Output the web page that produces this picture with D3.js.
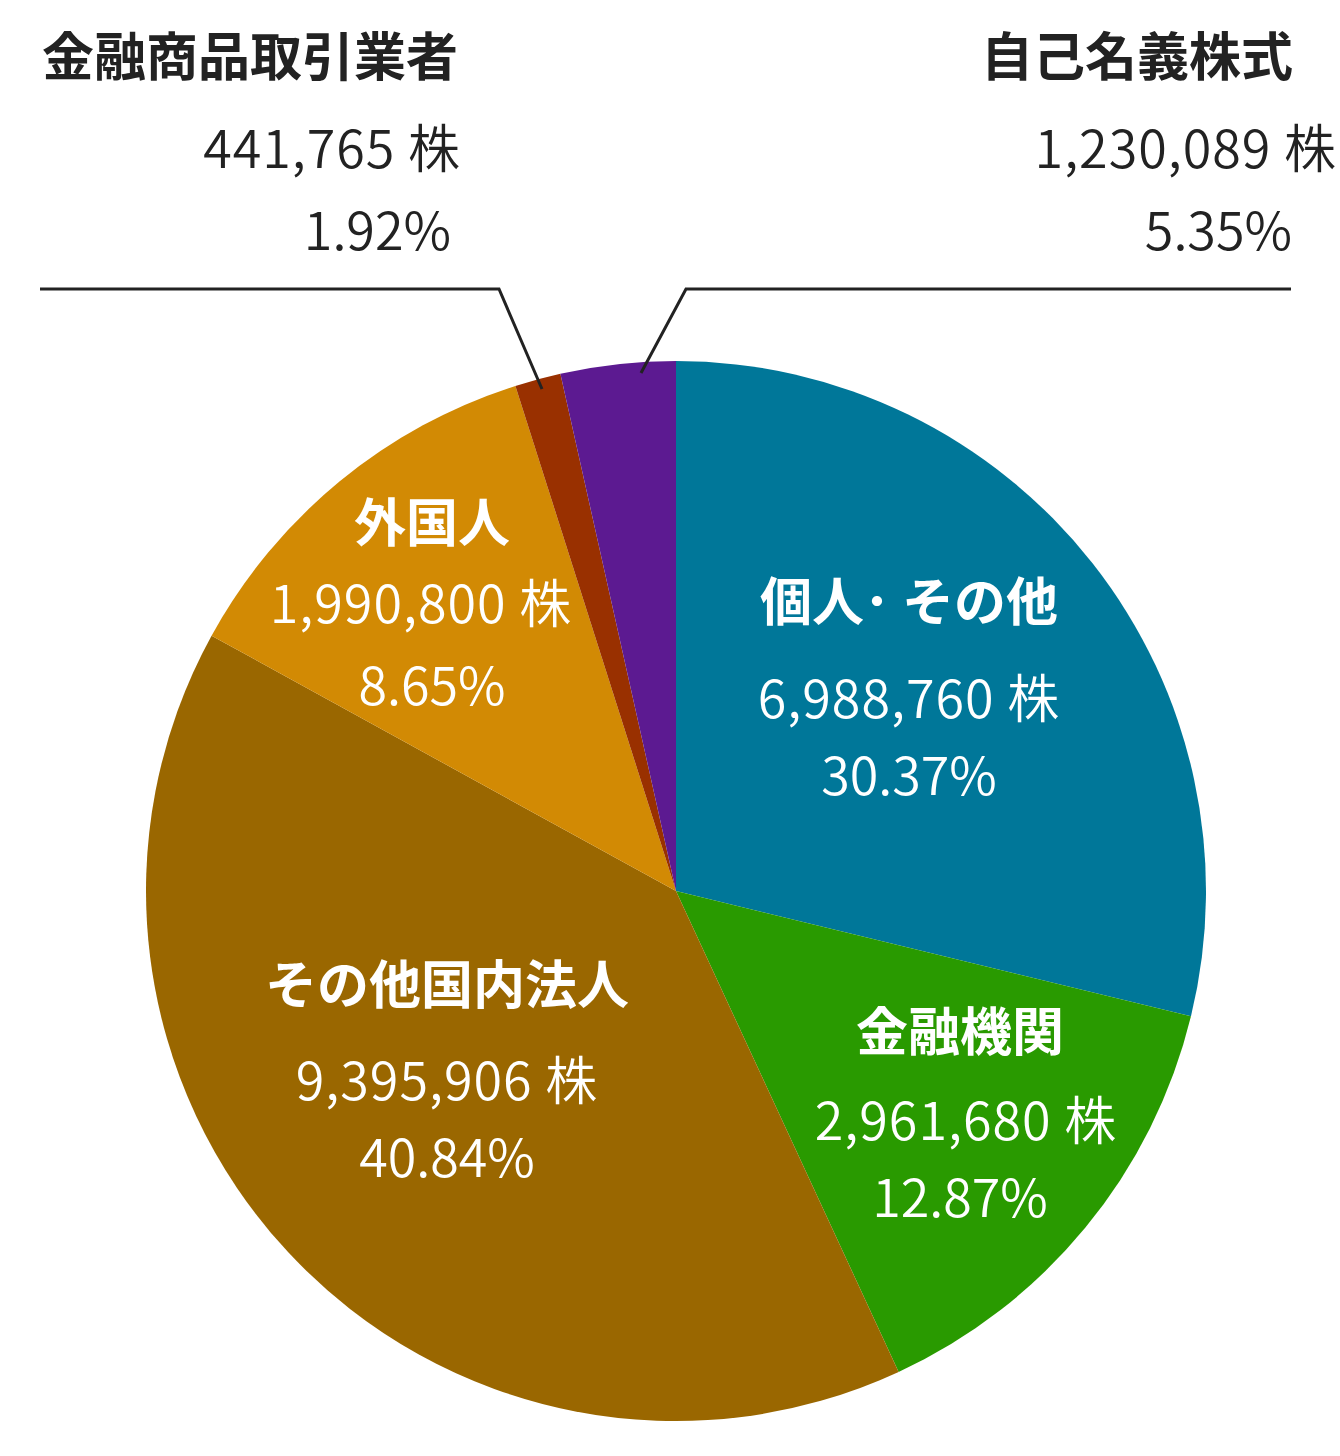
<!DOCTYPE html>
<html lang="ja">
<head>
<meta charset="utf-8">
<script src="https://cdn.jsdelivr.net/npm/d3@7"></script>
<style>
  body { margin: 0; background: #fff; }
  svg { display: block; font-family: "Noto Sans CJK JP", "Noto Sans", sans-serif; }
</style>
</head>
<body>
<svg id="chart"></svg>
<script>
// Shareholder categories (clockwise from 12 o'clock)
const categories = ["個人･ その他", "金融機関", "その他国内法人", "外国人", "金融商品取引業者", "自己名義株式"];
const shares = [6988760, 2961680, 9395906, 1990800, 441765, 1230089];
const percents = ["30.37%", "12.87%", "40.84%", "8.65%", "1.92%", "5.35%"];
// slice sizes as they are drawn in the picture (%), they differ a bit from the labels
const drawnPct = [28.8, 14.3, 39.9, 12.1, 1.4, 3.5];
const colors = ["#007799", "#299a00", "#9a6700", "#d28a04", "#993000", "#5c1a91"];

const width = 1340;
const height = 1456;
const cx = 676, cy = 891, radius = 530;

// label layout: x, baselines of the three lines, anchor
const labelLayout = [
  { x: 909, y: [621, 718, 795], anchor: "middle", fill: "#fff" },
  { x: 960, y: [1051, 1140, 1217], anchor: "middle", fill: "#fff", nx: 966 },
  { x: 447, y: [1004, 1100, 1177], anchor: "middle", fill: "#fff" },
  { x: 432, y: [542, 623, 705], anchor: "middle", fill: "#fff", nx: 421 },
  { x: 458, y: [76, 168, 250], anchor: "end", fill: "#222", nx: 461, px: 451 },
  { x: 1293, y: [76, 168, 250], anchor: "end", fill: "#222", nx: 1337, px: 1292 }
];

const svg = d3.select("#chart")
  .attr("width", width)
  .attr("height", height)
  .attr("viewBox", `0 0 ${width} ${height}`);

svg.append("rect").attr("width", width).attr("height", height).attr("fill", "#fff");

const pie = d3.pie().sort(null).value(d => d);
const arc = d3.arc().innerRadius(0).outerRadius(radius);

svg.append("g")
  .attr("transform", `translate(${cx},${cy})`)
  .selectAll("path")
  .data(pie(drawnPct))
  .enter()
  .append("path")
  .attr("d", arc)
  .attr("fill", (d, i) => colors[i]);

// leader lines for the two thin slices
const leaders = [
  [[40, 289], [499, 289], [542, 389]],
  [[1291, 289], [686, 289], [641, 373]]
];
svg.append("g")
  .selectAll("path")
  .data(leaders)
  .enter()
  .append("path")
  .attr("d", d3.line())
  .attr("fill", "none")
  .attr("stroke", "#222")
  .attr("stroke-width", 3);

// labels
const fmt = d3.format(",");
const labels = svg.append("g")
  .selectAll("g")
  .data(categories)
  .enter()
  .append("g");

labels.append("text")
  .attr("x", (d, i) => labelLayout[i].x)
  .attr("y", (d, i) => labelLayout[i].y[0])
  .attr("text-anchor", (d, i) => labelLayout[i].anchor)
  .attr("fill", (d, i) => labelLayout[i].fill)
  .style("font-size", "52px")
  .style("font-weight", "bold")
  .text(d => d);

labels.append("text")
  .attr("x", (d, i) => labelLayout[i].nx || labelLayout[i].x)
  .attr("y", (d, i) => labelLayout[i].y[1])
  .attr("text-anchor", (d, i) => labelLayout[i].anchor)
  .attr("fill", (d, i) => labelLayout[i].fill)
  .style("font-size", "52px")
  .style("font-weight", 350)
  .style("letter-spacing", "1px")
  .text((d, i) => `${fmt(shares[i])} 株`);

labels.append("text")
  .attr("x", (d, i) => labelLayout[i].px || labelLayout[i].x)
  .attr("y", (d, i) => labelLayout[i].y[2])
  .attr("text-anchor", (d, i) => labelLayout[i].anchor)
  .attr("fill", (d, i) => labelLayout[i].fill)
  .style("font-size", "52px")
  .style("font-weight", 350)
  .text((d, i) => percents[i]);
</script>
</body>
</html>
